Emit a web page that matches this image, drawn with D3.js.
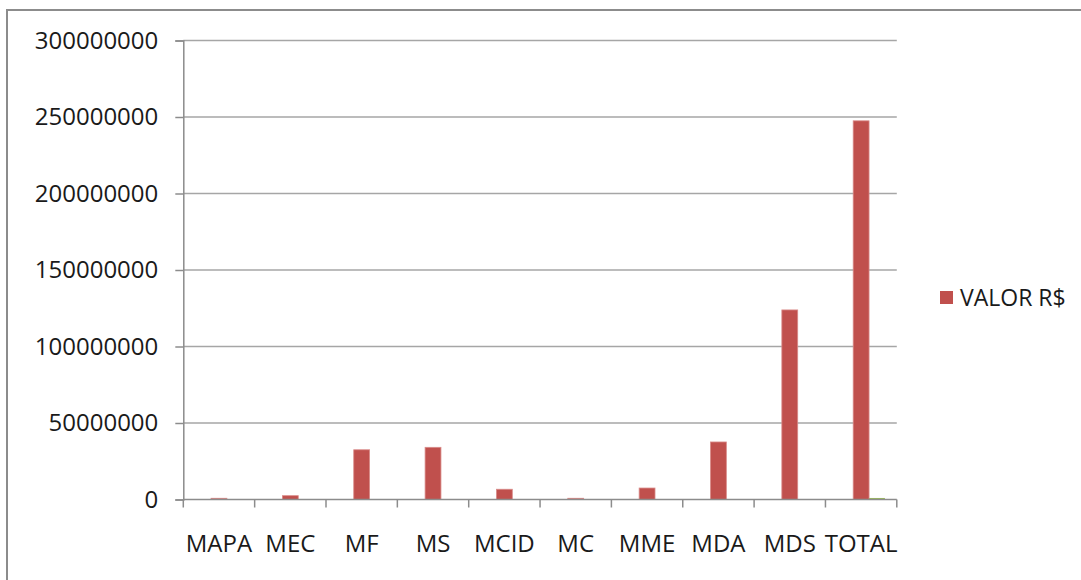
<!DOCTYPE html>
<html>
<head>
<meta charset="utf-8">
<script src="https://cdn.jsdelivr.net/npm/d3@7"></script>
<style>
  html, body { margin: 0; padding: 0; background: #fff; }
  svg { display: block; }
  text { font-family: "Open Sans", "Noto Sans", sans-serif; fill: #1a1a1a; }
</style>
</head>
<body>
<svg id="chart" width="1081" height="580"></svg>
<script>
// Ministries and their amounts (R$)
const categories = ["MAPA", "MEC", "MF", "MS", "MCID", "MC", "MME", "MDA", "MDS", "TOTAL"];
const valores = [800000, 2500000, 32500000, 34100000, 6700000, 800000, 7500000, 37600000, 123900000, 247500000];
// Secondary column, only filled on the TOTAL row
const outros = [0, 0, 0, 0, 0, 0, 0, 0, 0, 1000000];
const yTicks = [0, 50000000, 100000000, 150000000, 200000000, 250000000, 300000000];
const seriesSlots = ["s1", "VALOR R$", "s3"];
const legendLabel = "VALOR R$";

const svg = d3.select("#chart");

// Outer chart frame
svg.append("path")
  .attr("d", "M7,590 L7,10 L1090,10")
  .attr("fill", "none")
  .attr("stroke", "#8c8c8c")
  .attr("stroke-width", 2);

const plot = { left: 183.3, right: 896.8, top: 40.5, bottom: 499.5 };

const x = d3.scaleBand().domain(categories).range([plot.left, plot.right]).padding(0);
const xs = d3.scaleBand().domain(seriesSlots).range([0, x.bandwidth()])
  .paddingInner(0).paddingOuter(0.75);
const y = d3.scaleLinear().domain([0, 300000000]).range([plot.bottom, plot.top]);

// Horizontal gridlines
svg.append("g")
  .selectAll("line")
  .data(yTicks.filter(d => d > 0))
  .join("line")
  .attr("x1", plot.left).attr("x2", plot.right)
  .attr("y1", d => y(d)).attr("y2", d => y(d))
  .attr("stroke", "#a6a6a6").attr("stroke-width", 1.5);

// Y axis
const yAxis = svg.append("g")
  .attr("transform", `translate(${plot.left},0)`)
  .call(d3.axisLeft(y).tickValues(yTicks).tickFormat(d3.format("d")).tickSize(8).tickPadding(17));
yAxis.select(".domain").attr("stroke", "#8c8c8c").attr("stroke-width", 1.5);
yAxis.selectAll(".tick line").attr("stroke", "#8c8c8c").attr("stroke-width", 1.5);
yAxis.selectAll(".tick text")
  .attr("font-size", 24)
  .attr("font-family", "'Open Sans', sans-serif")
  .attr("fill", "#1a1a1a");

// Bars: VALOR R$
svg.append("g")
  .selectAll("rect")
  .data(categories.map((c, i) => ({ c, v: valores[i] })))
  .join("rect")
  .attr("x", d => x(d.c) + xs("VALOR R$"))
  .attr("width", xs.bandwidth())
  .attr("y", d => y(d.v))
  .attr("height", d => y(0) - y(d.v))
  .attr("fill", "#c0504d")
  .attr("stroke", "#d98b89")
  .attr("stroke-width", 0.8);

// Bars: secondary column
svg.append("g")
  .selectAll("rect")
  .data(categories.map((c, i) => ({ c, v: outros[i] })).filter(d => d.v > 0))
  .join("rect")
  .attr("x", d => x(d.c) + xs("s3"))
  .attr("width", xs.bandwidth())
  .attr("y", d => y(d.v))
  .attr("height", d => y(0) - y(d.v))
  .attr("fill", "#9bbb59");

// X axis with category tick marks at band edges
const xAxisG = svg.append("g").attr("transform", `translate(0,${plot.bottom})`);
xAxisG.append("line")
  .attr("x1", plot.left).attr("x2", plot.right)
  .attr("stroke", "#8c8c8c").attr("stroke-width", 1.5);
const edges = categories.map(c => x(c)).concat([plot.right]);
xAxisG.selectAll("line.tk")
  .data(edges)
  .join("line")
  .attr("class", "tk")
  .attr("x1", d => d).attr("x2", d => d)
  .attr("y1", 0).attr("y2", 8)
  .attr("stroke", "#8c8c8c").attr("stroke-width", 1.5);
xAxisG.selectAll("text")
  .data(categories)
  .join("text")
  .attr("x", d => x(d) + x.bandwidth() / 2)
  .attr("y", 52)
  .attr("text-anchor", "middle")
  .attr("font-size", 24)
  .text(d => d);

// Legend
const lg = svg.append("g").attr("transform", "translate(940,291)");
lg.append("rect").attr("width", 13).attr("height", 13).attr("fill", "#c0504d");
lg.append("text").attr("x", 20).attr("y", 15).attr("font-size", 23).text(legendLabel);
</script>
</body>
</html>
